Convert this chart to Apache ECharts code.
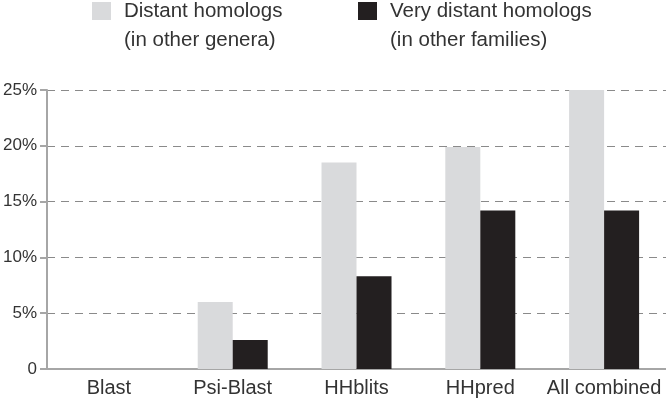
<!DOCTYPE html>
<html><head><meta charset="utf-8">
<script src="https://cdn.jsdelivr.net/npm/echarts@6/dist/echarts.min.js"></script>
<style>html,body{margin:0;padding:0;background:#fff}#c{width:666px;height:402px}</style>
</head><body><div id="c"></div>
<script>
const categories = ['Blast', 'Psi-Blast', 'HHblits', 'HHpred', 'All combined'];
const distant = [0, 6.0, 18.5, 19.9, 25.0];
const veryDistant = [0, 2.6, 8.3, 14.2, 14.2];
const seriesNames = ['Distant homologs\n(in other genera)', 'Very distant homologs\n(in other families)'];
const yTicks = [0, 5, 10, 15, 20, 25];

const font = 'Liberation Sans, Arial, sans-serif';
const chart = echarts.init(document.getElementById('c'));
const legendText = {fontFamily: font, fontSize: 20.5, color: '#333', lineHeight: 29, padding: [0, 0, 0, 8]};
const legendIcon = 'path://M0,0h19v18h-19z M0,46.99h19v0.01h-19z';
const legendBase = {top: -3.5, padding: 0, itemWidth: 19, itemHeight: 47, selectedMode: false, textStyle: legendText, icon: legendIcon};
chart.setOption({
  animation: false,
  legend: [
    Object.assign({data: [seriesNames[0]], left: 92}, legendBase),
    Object.assign({data: [seriesNames[1]], left: 358}, legendBase)
  ],
  grid: {left: 47, right: 0, top: 90, bottom: 33, containLabel: false},
  xAxis: {
    type: 'category', data: categories,
    axisLine: {lineStyle: {color: '#a6a6a6', width: 2}},
    axisTick: {interval: 0, length: 7, lineStyle: {color: '#a6a6a6', width: 2}},
    axisLabel: {interval: 0, hideOverlap: false, fontFamily: font, fontSize: 20, color: '#333', margin: 9}
  },
  yAxis: {
    type: 'value', min: 0, max: 25, interval: 5,
    axisLine: {show: true, lineStyle: {color: '#a6a6a6', width: 2}},
    axisTick: {show: true, length: 7, lineStyle: {color: '#a6a6a6', width: 2}},
    axisLabel: {fontFamily: font, fontSize: 17, color: '#333', margin: 10,
      formatter: v => yTicks.includes(v) ? (v === 0 ? '0' : v + '%') : ''},
    splitLine: {lineStyle: {color: '#8a8a8a', type: [8, 6], width: 1}}
  },
  series: [
    {name: seriesNames[0], type: 'bar', data: distant, barWidth: 35, barGap: '0%', itemStyle: {color: '#d9dadc'}},
    {name: seriesNames[1], type: 'bar', data: veryDistant, barWidth: 35, barGap: '0%', itemStyle: {color: '#231f20'}}
  ]
});
</script></body></html>
